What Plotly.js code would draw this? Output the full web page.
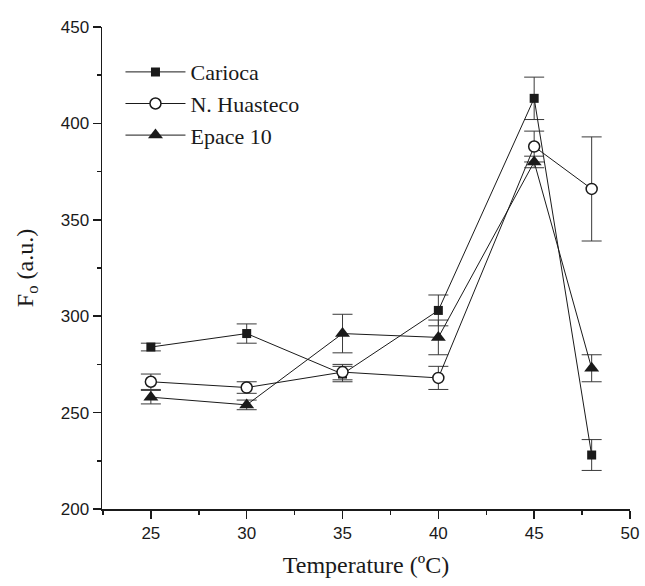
<!DOCTYPE html>
<html>
<head>
<meta charset="utf-8">
<script src="https://cdn.plot.ly/plotly-3.0.1.min.js"></script>
<style>html,body{margin:0;padding:0;background:#fff;}#chart{width:645px;height:586px;}</style>
</head>
<body>
<div id="chart"></div>
<script>
const temperature = [25, 30, 35, 40, 45, 48];

const cariocaValues = [284, 291, 270, 303, 413, 228];
const cariocaErrors = [2, 5, 4, 8, 11, 8];

const huastecoValues = [266, 263, 271, 268, 388, 366];
const huastecoErrors = [4, 3, 4, 6, 8, 27];

const epaceValues = [258, 254, 291, 289, 380, 273];
const epaceErrors = [3.5, 2.5, 10, 9, 3, 7];

const seriesNames = ['Carioca', 'N. Huasteco', 'Epace 10'];
const xTickVals = [25, 30, 35, 40, 45, 50];
const yTickVals = [200, 250, 300, 350, 400, 450];

function errStyle(arr) {
  return {type: 'data', array: arr, visible: true, color: '#3a3a3a', thickness: 1, width: 10};
}

const traces = [
  {
    x: temperature, y: cariocaValues, name: seriesNames[0], type: 'scatter', mode: 'lines+markers',
    line: {color: '#1a1a1a', width: 1},
    marker: {symbol: 'square', size: 9, color: '#1a1a1a'},
    error_y: errStyle(cariocaErrors)
  },
  {
    x: temperature, y: huastecoValues, name: seriesNames[1], type: 'scatter', mode: 'lines+markers',
    line: {color: '#1a1a1a', width: 1},
    marker: {symbol: 'circle', size: 11, color: '#ffffff', line: {color: '#1a1a1a', width: 1.5}},
    error_y: errStyle(huastecoErrors)
  },
  {
    x: temperature, y: epaceValues, name: seriesNames[2], type: 'scatter', mode: 'lines+markers',
    line: {color: '#1a1a1a', width: 1},
    marker: {symbol: 'triangle-up', size: 13, color: '#1a1a1a'},
    error_y: errStyle(epaceErrors)
  }
];

const serif = 'Liberation Serif, Times New Roman, serif';
const sans = 'Liberation Sans, Arial, sans-serif';

const layout = {
  width: 645, height: 586,
  margin: {l: 102, r: 15, t: 27, b: 77, pad: 0},
  paper_bgcolor: '#ffffff', plot_bgcolor: '#ffffff',
  showlegend: true,
  legend: {
    x: 0.035, y: 0.95, xanchor: 'left', yanchor: 'top',
    font: {family: serif, size: 22, color: '#1a1a1a'},
    bgcolor: 'rgba(0,0,0,0)', itemwidth: 60, tracegroupgap: 0
  },
  xaxis: {
    range: [22.45, 50], tickvals: xTickVals, ticktext: xTickVals.map(String),
    ticks: 'outside', ticklen: 8, tickwidth: 1.5, tickcolor: '#1a1a1a',
    showline: true, linecolor: '#1a1a1a', linewidth: 1.5, showgrid: false, zeroline: false,
    tickfont: {family: sans, size: 17, color: '#1a1a1a'},
    minor: {dtick: 2.5, tick0: 0, ticklen: 4, tickwidth: 1.5, tickcolor: '#1a1a1a', ticks: 'outside', showgrid: false},
    title: {text: 'Temperature (ºC)', standoff: 14, font: {family: serif, size: 24, color: '#1a1a1a'}}
  },
  yaxis: {
    range: [200, 450], tickvals: yTickVals, ticktext: yTickVals.map(String),
    ticks: 'outside', ticklen: 8, tickwidth: 1.5, tickcolor: '#1a1a1a',
    showline: true, linecolor: '#1a1a1a', linewidth: 1.5, showgrid: false, zeroline: false,
    tickfont: {family: sans, size: 17, color: '#1a1a1a'},
    minor: {dtick: 25, tick0: 0, ticklen: 4, tickwidth: 1.5, tickcolor: '#1a1a1a', ticks: 'outside', showgrid: false},
    title: {text: 'F<sub>o</sub> (a.u.)', standoff: 20, font: {family: serif, size: 24, color: '#1a1a1a'}}
  }
};

Plotly.newPlot('chart', traces, layout, {displayModeBar: false, staticPlot: true});
</script>
</body>
</html>
